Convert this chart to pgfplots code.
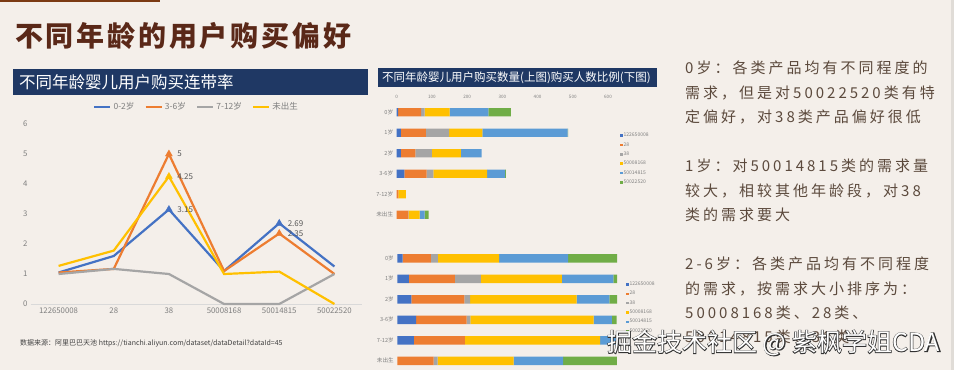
\documentclass[border=0pt]{standalone}
\usepackage{fontspec}
\setmainfont{Noto Sans CJK SC}
\newfontfamily\spaced[LetterSpace=20]{Noto Sans CJK SC}
\newfontfamily\titlefont[LetterSpace=10]{Noto Sans CJK SC}
\newfontfamily\wmbold[FakeBold=5]{Noto Sans CJK SC}
\usepackage{pgfplots}
\pgfplotsset{compat=1.18}
\definecolor{bg}{HTML}{F4EFEA}
\definecolor{navy}{HTML}{1F3864}
\definecolor{ttl}{HTML}{5A2818}
\definecolor{txt}{HTML}{5C4A3D}
\definecolor{cA}{HTML}{4472C4}
\definecolor{cB}{HTML}{ED7D31}
\definecolor{cC}{HTML}{A5A5A5}
\definecolor{cD}{HTML}{FFC000}
\definecolor{cE}{HTML}{5B9BD5}
\definecolor{cF}{HTML}{70AD47}
\definecolor{tickc}{HTML}{7F7F7F}
\begin{document}
\begin{tikzpicture}
\path[use as bounding box, fill=bg] (0pt,0pt) rectangle (954pt,370pt);
\fill[bg!92!black] (951pt,0pt) rectangle (954pt,370pt);
\fill[ttl!80!orange] (0pt,368pt) rectangle (160pt,370pt);
% main title
\node[anchor=west, inner sep=0pt, text=ttl, font=\titlefont\bfseries\fontsize{28}{30}\selectfont] at (15pt,334pt) {不同年龄的用户购买偏好};
% left title bar
\fill[navy] (13pt,301pt) rectangle (368pt,275pt);
\node[anchor=west, inner sep=0pt, text=white, font=\fontsize{16.5}{18}\selectfont] at (19pt,288pt) {不同年龄婴儿用户购买连带率};
% middle title bar
\fill[navy] (378pt,302pt) rectangle (657pt,283pt);
\node[anchor=west, inner sep=0pt, text=white, font=\fontsize{11.5}{13}\selectfont] at (382pt,292.5pt) {不同年龄婴儿用户购买数量(上图)购买人数比例(下图)};

% left line chart
\begin{axis}[
  at={(31pt,66pt)}, anchor=south west,
  width=331pt, height=180pt, scale only axis,
  xmin=-0.5, xmax=5.5, ymin=0, ymax=6,
  xtick={0,...,5},
  xticklabels={122650008,28,38,50008168,50014815,50022520},
  ytick={0,...,6},
  axis x line*=bottom, axis y line*=left,
  x axis line style={draw=black!15, line width=0.8pt},
  y axis line style={draw=none},
  major tick length=0pt,
  /pgf/number format/assume math mode=true,
  tick label style={text=tickc, font=\fontsize{7.8}{9}\selectfont},
  clip=false,
  legend columns=4,
  legend style={at={(0.5,1.094)}, anchor=center, draw=none, fill=none,
    font=\fontsize{8.5}{10}\selectfont, text=tickc,
    /tikz/every even column/.append style={column sep=8pt}},
  legend image code/.code={\draw[#1, line width=2.5pt] (0pt,0pt) -- (16pt,0pt);},
]
\addplot[cA, line width=2.2pt] coordinates {(0,1.05) (1,1.6) (2,3.15) (3,1.1) (4,2.69) (5,1.25)};
\addlegendentry{0-2岁}
\addplot[cB, line width=2.2pt] coordinates {(0,1.05) (1,1.17) (2,5) (3,1.1) (4,2.35) (5,1.0)};
\addlegendentry{3-6岁}
\addplot[cC, line width=2.2pt] coordinates {(0,1.0) (1,1.17) (2,1.0) (3,0) (4,0) (5,1.0)};
\addlegendentry{7-12岁}
\addplot[cD, line width=2.2pt] coordinates {(0,1.27) (1,1.78) (2,4.25) (3,1.0) (4,1.08) (5,0)};
\addlegendentry{未出生}
\pgfplotsset{every node near coord/.append style={anchor=west, xshift=5pt, text=black!65, font=\fontsize{8}{9}\selectfont}}
\addplot[cA, only marks, mark=triangle*, mark size=4pt, nodes near coords, point meta=explicit symbolic, forget plot] coordinates {(2,3.15)[3.15] (4,2.69)[2.69]};
\addplot[cB, only marks, mark=triangle*, mark size=4pt, nodes near coords, point meta=explicit symbolic, forget plot] coordinates {(2,5)[5] (4,2.35)[2.35]};
\addplot[cD, only marks, mark=triangle*, mark size=4pt, nodes near coords, point meta=explicit symbolic, forget plot] coordinates {(2,4.25)[4.25]};
\end{axis}

\node[anchor=west, inner sep=0pt, text=black!75, font=\fontsize{7}{8}\selectfont] at (20pt,27pt) {数据来源：阿里巴巴天池 https://tianchi.aliyun.com/dataset/dataDetail?dataId=45};

% top stacked bar chart (counts)
\begin{axis}[
  at={(396.7pt,145pt)}, anchor=south west,
  width=211.3pt, height=122.9pt, scale only axis,
  xbar stacked, bar width=8.3pt,
  xmin=0, xmax=600, ymin=-0.5, ymax=5.5, y dir=reverse,
  xtick={0,100,...,600}, xticklabel pos=upper,
  ytick={0,...,5},
  yticklabels={0岁,1岁,2岁,3-6岁,7-12岁,未出生},
  axis line style={draw=none}, major tick length=0pt,
  /pgf/number format/assume math mode=true,
  xticklabel style={text=tickc, font=\fontsize{4.6}{5}\selectfont},
  yticklabel style={text=tickc, font=\fontsize{5.6}{6}\selectfont},
  legend style={at={(1.057,0.755)}, anchor=north west, draw=none, fill=none,
    font=\fontsize{5}{6}\selectfont, text=tickc, row sep=2.6pt, inner sep=0pt,
    nodes={inner sep=0.8pt}},
  legend cell align=left,
  legend image code/.code={\fill[#1] (0pt,-1.3pt) rectangle (2.6pt,1.3pt);},
]
\addplot[fill=cA, draw=none] coordinates {(4,0) (12,1) (12,2) (22,3) (0,4) (0,5)};
\addlegendentry{122650008}
\addplot[fill=cB, draw=none] coordinates {(65,0) (71,1) (41,2) (63,3) (5,4) (33,5)};
\addlegendentry{28}
\addplot[fill=cC, draw=none] coordinates {(10,0) (66,1) (47,2) (19,3) (0,4) (1,5)};
\addlegendentry{38}
\addplot[fill=cD, draw=none] coordinates {(71,0) (94,1) (82,2) (153,3) (21,4) (31,5)};
\addlegendentry{50008168}
\addplot[fill=cE, draw=none] coordinates {(110,0) (242,1) (59,2) (51,3) (0,4) (14,5)};
\addlegendentry{50014815}
\addplot[fill=cF, draw=none] coordinates {(64,0) (2,1) (0,2) (2,3) (0,4) (12,5)};
\addlegendentry{50022520}
\end{axis}

% bottom stacked bar chart (percent)
\begin{axis}[
  at={(397.3pt,-1.1pt)}, anchor=south west,
  width=219.7pt, height=123pt, scale only axis,
  xbar stacked, bar width=8.3pt,
  xmin=0, xmax=100, ymin=-0.5, ymax=5.5, y dir=reverse,
  xtick=\empty,
  ytick={0,...,5},
  yticklabels={0岁,1岁,2岁,3-6岁,7-12岁,未出生},
  axis line style={draw=none}, major tick length=0pt,
  yticklabel style={text=tickc, font=\fontsize{5.6}{6}\selectfont},
  legend style={at={(1.041,0.733)}, anchor=north west, draw=none, fill=none,
    font=\fontsize{5}{6}\selectfont, text=tickc, row sep=2.6pt, inner sep=0pt,
    nodes={inner sep=0.8pt}},
  legend cell align=left,
  legend image code/.code={\fill[#1] (0pt,-1.3pt) rectangle (2.6pt,1.3pt);},
]
\addplot[fill=cA, draw=none] coordinates {(2.4,0) (5.3,1) (6.4,2) (8.6,3) (7.6,4) (0,5)};
\addlegendentry{122650008}
\addplot[fill=cB, draw=none] coordinates {(12.9,0) (20.9,1) (24.1,2) (22.9,3) (23.1,4) (16.5,5)};
\addlegendentry{28}
\addplot[fill=cC, draw=none] coordinates {(3.2,0) (11.8,1) (2.7,2) (1.8,3) (0,4) (1.8,5)};
\addlegendentry{38}
\addplot[fill=cD, draw=none] coordinates {(27.8,0) (36.9,1) (48.4,2) (56.1,3) (61.6,4) (34.7,5)};
\addlegendentry{50008168}
\addplot[fill=cE, draw=none] coordinates {(31.4,0) (23.4,1) (14.9,2) (8.3,3) (7.7,4) (22.5,5)};
\addlegendentry{50014815}
\addplot[fill=cF, draw=none] coordinates {(22.3,0) (1.7,1) (3.5,2) (2.1,3) (0,4) (24.4,5)};
\addlegendentry{50022520}
\end{axis}

% right text
\begin{scope}[every node/.style={anchor=west, inner sep=0pt, text=txt, font=\spaced\fontsize{15}{17}\selectfont}]
\node at (685pt,302pt) {0岁：各类产品均有不同程度的};
\node at (685pt,277.5pt) {需求，但是对50022520类有特};
\node at (685pt,253pt) {定偏好，对38类产品偏好很低};
\node at (685pt,204pt) {1岁：对50014815类的需求量};
\node at (685pt,179.5pt) {较大，相较其他年龄段，对38};
\node at (685pt,155pt) {类的需求要大};
\node at (685pt,106pt) {2-6岁：各类产品均有不同程度};
\node at (685pt,81.5pt) {的需求，按需求大小排序为：};
\node at (685pt,57pt) {50008168类、28类、};
\node at (685pt,33pt) {50014815类、38类};
\end{scope}

% watermark
\node[anchor=west, inner sep=0pt, text=black!80, font=\wmbold\fontsize{25}{27}\selectfont] at (607pt,27pt) {掘金技术社区 @ 紫枫学姐CDA};
\node[anchor=west, inner sep=0pt, text=white, font=\fontsize{25}{27}\selectfont] at (607pt,27pt) {掘金技术社区 @ 紫枫学姐CDA};
\end{tikzpicture}
\end{document}
